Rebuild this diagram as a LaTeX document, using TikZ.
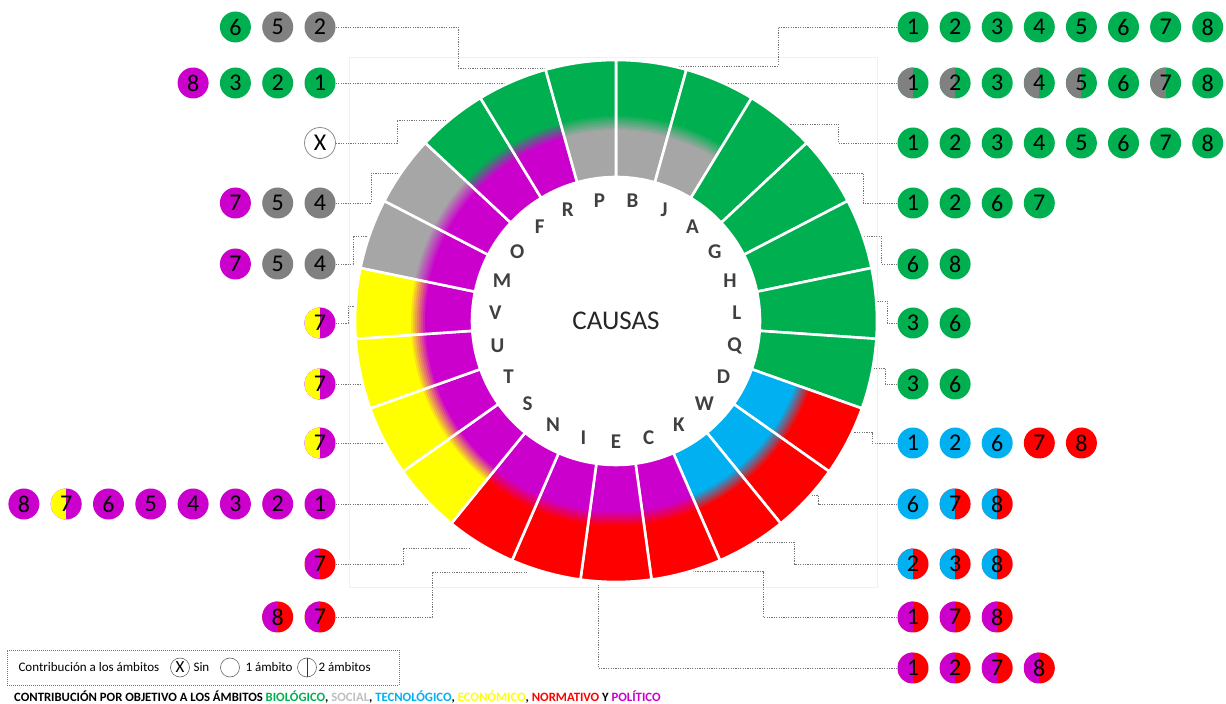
\documentclass[tikz,border=0pt]{standalone}
\usepackage{fontspec}
\setmainfont{Carlito}
\definecolor{verde}{HTML}{00B050}
\definecolor{grisr}{HTML}{A6A6A6}
\definecolor{grisb}{HTML}{808080}
\definecolor{grisclaro}{HTML}{BFBFBF}
\definecolor{morado}{HTML}{CC00CC}
\definecolor{azul}{HTML}{00B0F0}
\definecolor{rojo}{HTML}{FF0000}
\definecolor{amarillo}{HTML}{FFFF00}
\definecolor{letra}{HTML}{404040}

% trozo del sector actual, de r=144 hasta #1
\newcommand{\trozo}[2]{\fill[#2] (\aini:144) -- (\aini:#1) arc[start angle=\aini,end angle=\afin,radius=#1] -- (\afin:144) arc[start angle=\afin,end angle=\aini,radius=144] -- cycle;}
% sector k de 23: color interior, color exterior, letra
\newcommand{\causa}[4]{%
  \pgfmathsetmacro{\aini}{90-360/23*(#1-1)}%
  \pgfmathsetmacro{\afin}{90-360/23*#1}%
  \pgfmathsetmacro{\amed}{90-360/23*(#1-0.5)}%
  \trozo{261}{#3}
  \trozo{205}{#2!12!#3}
  \trozo{203}{#2!25!#3}
  \trozo{201}{#2!38!#3}
  \trozo{199}{#2!50!#3}
  \trozo{197}{#2!62!#3}
  \trozo{195}{#2!75!#3}
  \trozo{193}{#2!88!#3}
  \trozo{191}{#2}
  \draw[white,line width=2.6] (\aini:144) -- (\aini:261) arc[start angle=\aini,end angle=\afin,radius=261] -- (\afin:144) arc[start angle=\afin,end angle=\aini,radius=144] -- cycle;
  \node[text=letra,font=\bfseries\fontsize{21}{21}\selectfont] (c#4) at (\amed:121) {#4};
}

\begin{document}
\begin{tikzpicture}[x=1pt,y=1pt,font=\fontsize{13}{14}\selectfont,
  bub/.style={circle,inner sep=0pt,minimum size=31,font=\fontsize{24}{24}\selectfont},
  uno/.style={bub,fill=#1},
  dos/.style 2 args={bub,fill=#2,path picture={\fill[#1] (path picture bounding box.south west) rectangle (path picture bounding box.north);}},
  enlace/.style={draw=black!55,line width=0.8,dash pattern=on 1.2pt off 1.2pt},
  mini/.style={circle,draw=black!60,line width=0.6,inner sep=0pt,minimum size=19}]
\useasboundingbox (0,0) rectangle (1226,704);
\draw[black!6] (349,117) rectangle (877,647);

% izquierda
\node[uno=grisb] (l1a) at (320,677) {2};
\node[uno=grisb] (l1b) at (277.7,677) {5};
\node[uno=verde] (l1c) at (235.4,677) {6};
\node[uno=verde] (l2a) at (320,621) {1};
\node[uno=verde] (l2b) at (277.7,621) {2};
\node[uno=verde] (l2c) at (235.4,621) {3};
\node[uno=morado] (l2d) at (193.1,621) {8};
\node[bub,fill=white,draw=black!45,line width=0.8] (l3a) at (320,561) {X};
\node[uno=grisb] (l4a) at (320,501) {4};
\node[uno=grisb] (l4b) at (277.7,501) {5};
\node[uno=morado] (l4c) at (235.4,501) {7};
\node[uno=grisb] (l5a) at (320,440) {4};
\node[uno=grisb] (l5b) at (277.7,440) {5};
\node[uno=morado] (l5c) at (235.4,440) {7};
\node[dos={amarillo}{morado}] (l6a) at (320,381) {7};
\node[dos={amarillo}{morado}] (l7a) at (320,320) {7};
\node[dos={amarillo}{morado}] (l8a) at (320,261) {7};
\node[uno=morado] (l9a) at (320,200) {1};
\node[uno=morado] (l9b) at (277.7,200) {2};
\node[uno=morado] (l9c) at (235.4,200) {3};
\node[uno=morado] (l9d) at (193.1,200) {4};
\node[uno=morado] (l9e) at (150.8,200) {5};
\node[uno=morado] (l9f) at (108.5,200) {6};
\node[dos={amarillo}{morado}] (l9g) at (66.2,200) {7};
\node[uno=morado] (l9h) at (23.9,200) {8};
\node[dos={morado}{rojo}] (l10a) at (320,140) {7};
\node[dos={morado}{rojo}] (l11a) at (320,87) {7};
\node[dos={morado}{rojo}] (l11b) at (277.7,87) {8};

% derecha
\node[uno=verde] (r1a) at (913,677) {1};
\node[uno=verde] (r1b) at (955.1,677) {2};
\node[uno=verde] (r1c) at (997.2,677) {3};
\node[uno=verde] (r1d) at (1039.3,677) {4};
\node[uno=verde] (r1e) at (1081.4,677) {5};
\node[uno=verde] (r1f) at (1123.5,677) {6};
\node[uno=verde] (r1g) at (1165.6,677) {7};
\node[uno=verde] (r1h) at (1207.7,677) {8};
\node[dos={grisb}{verde}] (r2a) at (913,621) {1};
\node[dos={grisb}{verde}] (r2b) at (955.1,621) {2};
\node[uno=verde] (r2c) at (997.2,621) {3};
\node[dos={grisb}{verde}] (r2d) at (1039.3,621) {4};
\node[dos={grisb}{verde}] (r2e) at (1081.4,621) {5};
\node[uno=verde] (r2f) at (1123.5,621) {6};
\node[dos={grisb}{verde}] (r2g) at (1165.6,621) {7};
\node[uno=verde] (r2h) at (1207.7,621) {8};
\node[uno=verde] (r3a) at (913,561) {1};
\node[uno=verde] (r3b) at (955.1,561) {2};
\node[uno=verde] (r3c) at (997.2,561) {3};
\node[uno=verde] (r3d) at (1039.3,561) {4};
\node[uno=verde] (r3e) at (1081.4,561) {5};
\node[uno=verde] (r3f) at (1123.5,561) {6};
\node[uno=verde] (r3g) at (1165.6,561) {7};
\node[uno=verde] (r3h) at (1207.7,561) {8};
\node[uno=verde] (r4a) at (913,501) {1};
\node[uno=verde] (r4b) at (955.1,501) {2};
\node[uno=verde] (r4c) at (997.2,501) {6};
\node[uno=verde] (r4d) at (1039.3,501) {7};
\node[uno=verde] (r5a) at (913,440) {6};
\node[uno=verde] (r5b) at (955.1,440) {8};
\node[uno=verde] (r6a) at (913,381) {3};
\node[uno=verde] (r6b) at (955.1,381) {6};
\node[uno=verde] (r7a) at (913,320) {3};
\node[uno=verde] (r7b) at (955.1,320) {6};
\node[uno=azul] (r8a) at (913,261) {1};
\node[uno=azul] (r8b) at (955.1,261) {2};
\node[uno=azul] (r8c) at (997.2,261) {6};
\node[uno=rojo] (r8d) at (1039.3,261) {7};
\node[uno=rojo] (r8e) at (1081.4,261) {8};
\node[uno=azul] (r9a) at (913,200) {6};
\node[dos={azul}{rojo}] (r9b) at (955.1,200) {7};
\node[dos={azul}{rojo}] (r9c) at (997.2,200) {8};
\node[dos={azul}{rojo}] (r10a) at (913,140) {2};
\node[dos={azul}{rojo}] (r10b) at (955.1,140) {3};
\node[dos={azul}{rojo}] (r10c) at (997.2,140) {8};
\node[dos={morado}{rojo}] (r11a) at (913,87) {1};
\node[dos={morado}{rojo}] (r11b) at (955.1,87) {7};
\node[dos={morado}{rojo}] (r11c) at (997.2,87) {8};
\node[dos={morado}{rojo}] (r12a) at (913,36) {1};
\node[dos={morado}{rojo}] (r12b) at (955.1,36) {2};
\node[dos={morado}{rojo}] (r12c) at (997.2,36) {7};
\node[dos={morado}{rojo}] (r12d) at (1039.3,36) {8};

% enlaces
\coordinate (kl1) at (458,636); \coordinate (el1) at (580,636);
\coordinate (el2) at (513,621);
\coordinate (kl3) at (397,584); \coordinate (el3) at (460,584);
\coordinate (kl4) at (371,531); \coordinate (el4) at (405,531);
\coordinate (kl5) at (353,468); \coordinate (el5) at (372,468);
\coordinate (kl6) at (348,398); \coordinate (el6) at (358,398);
\coordinate (el7) at (360,320);
\coordinate (el8) at (385,261);
\coordinate (el9) at (430,200);
\coordinate (kl10) at (403,156); \coordinate (el10) at (470,156);
\coordinate (kl11) at (432,132); \coordinate (el11) at (527,132);
\draw[enlace] (l1a.east) -| (kl1) -- (el1);
\draw[enlace] (l2a.east) -- (el2);
\draw[enlace] (l3a.east) -| (kl3) -- (el3);
\draw[enlace] (l4a.east) -| (kl4) -- (el4);
\draw[enlace] (l5a.east) -| (kl5) -- (el5);
\draw[enlace] (l6a.east) -| (kl6) -- (el6);
\draw[enlace] (l7a.east) -- (el7);
\draw[enlace] (l8a.east) -- (el8);
\draw[enlace] (l9a.east) -- (el9);
\draw[enlace] (l10a.east) -| (kl10) -- (el10);
\draw[enlace] (l11a.east) -| (kl11) -- (el11);
\coordinate (kr1) at (778,638); \coordinate (er1) at (660,638);
\coordinate (er2) at (720,621);
\coordinate (kr3) at (838,580); \coordinate (er3) at (787,580);
\coordinate (kr4) at (863,531); \coordinate (er4) at (831,531);
\coordinate (kr5) at (881,468); \coordinate (er5) at (862,468);
\coordinate (kr6) at (887,403); \coordinate (er6) at (875,403);
\coordinate (kr7) at (885,336); \coordinate (er7) at (870,336);
\coordinate (kr8) at (872,272); \coordinate (er8) at (848,272);
\coordinate (kr9) at (818,209); \coordinate (er9) at (790,209);
\coordinate (kr10) at (794,162); \coordinate (er10) at (740,162);
\coordinate (kr11) at (763,133); \coordinate (er11) at (680,133);
\coordinate (kr12) at (598,119);
\draw[enlace] (r1a.west) -| (kr1) -- (er1);
\draw[enlace] (r2a.west) -- (er2);
\draw[enlace] (r3a.west) -| (kr3) -- (er3);
\draw[enlace] (r4a.west) -| (kr4) -- (er4);
\draw[enlace] (r5a.west) -| (kr5) -- (er5);
\draw[enlace] (r6a.west) -| (kr6) -- (er6);
\draw[enlace] (r7a.west) -| (kr7) -- (er7);
\draw[enlace] (r8a.west) -| (kr8) -- (er8);
\draw[enlace] (r9a.west) -| (kr9) -- (er9);
\draw[enlace] (r10a.west) -| (kr10) -- (er10);
\draw[enlace] (r11a.west) -| (kr11) -- (er11);
\draw[enlace] (r12a.west) -| (kr12);

% anillo
\begin{scope}[shift={(616,383)}]
\causa{1}{grisr}{verde}{B}
\causa{2}{grisr}{verde}{J}
\causa{3}{verde}{verde}{A}
\causa{4}{verde}{verde}{G}
\causa{5}{verde}{verde}{H}
\causa{6}{verde}{verde}{L}
\causa{7}{verde}{verde}{Q}
\causa{8}{azul}{rojo}{D}
\causa{9}{azul}{rojo}{W}
\causa{10}{azul}{rojo}{K}
\causa{11}{morado}{rojo}{C}
\causa{12}{morado}{rojo}{E}
\causa{13}{morado}{rojo}{I}
\causa{14}{morado}{rojo}{N}
\causa{15}{morado}{amarillo}{S}
\causa{16}{morado}{amarillo}{T}
\causa{17}{morado}{amarillo}{U}
\causa{18}{morado}{amarillo}{V}
\causa{19}{morado}{grisr}{M}
\causa{20}{morado}{grisr}{O}
\causa{21}{morado}{verde}{F}
\causa{22}{morado}{verde}{R}
\causa{23}{grisr}{verde}{P}
\node[text=black!85,font=\fontsize{27}{27}\selectfont] (causas) at (0,0) {CAUSAS};
\end{scope}

% leyenda
\node[draw=black!55,dash pattern=on 1pt off 1pt,minimum width=392,minimum height=35,inner sep=0pt] (leyenda) at (203,36.5) {};
\node[anchor=west] (ltxt) at (15,36.5) {Contribución a los ámbitos};
\node[mini,font=\fontsize{17}{17}\selectfont] (lsin) at (180,36.5) {X};
\node[anchor=west] (lsint) at (190,36.5) {Sin};
\node[mini] (luno) at (230,36.5) {};
\node[anchor=west] (lunot) at (242,36.5) {1 ámbito};
\node[mini] (ldos) at (307,36.5) {};
\draw[black!80,line width=0.8] (ldos.north) -- (ldos.south);
\node[anchor=west] (ldost) at (315,36.5) {2 ámbitos};
\node[anchor=west,inner sep=0pt,font=\bfseries\fontsize{12.7}{13}\selectfont] (titulo) at (14,7) {CONTRIBUCIÓN POR OBJETIVO A LOS ÁMBITOS \textcolor{verde}{BIOLÓGICO}, \textcolor{grisclaro}{SOCIAL}, \textcolor{azul}{TECNOLÓGICO}, \textcolor{amarillo}{ECONÓMICO}, \textcolor{rojo}{NORMATIVO} Y \textcolor{morado}{POLÍTICO}};
\end{tikzpicture}
\end{document}
